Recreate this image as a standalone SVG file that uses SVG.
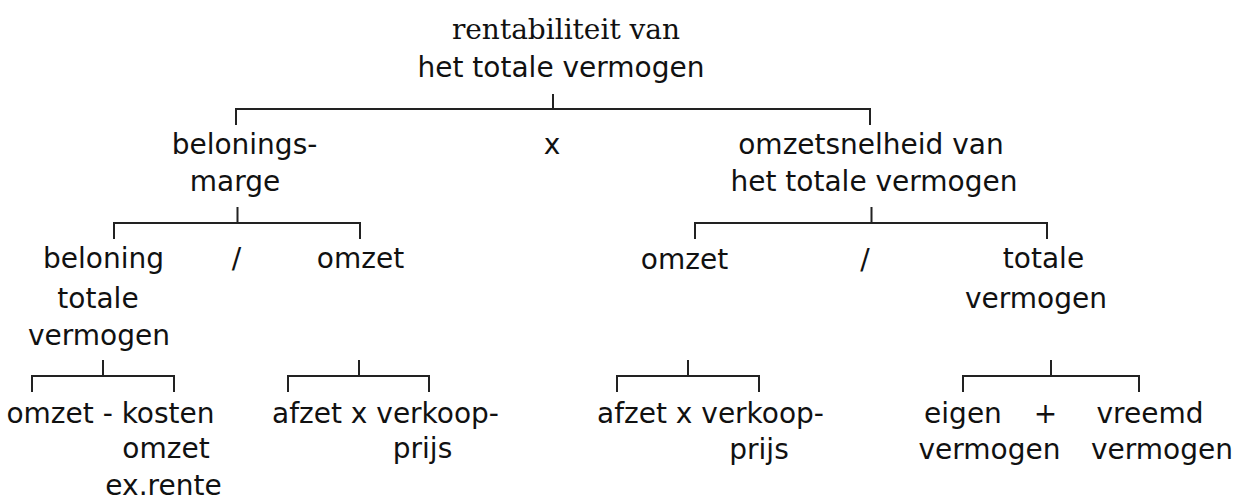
<svg xmlns="http://www.w3.org/2000/svg" width="1243" height="502" viewBox="0 0 1243 502">
<style>
.t{font-family:"DejaVu Sans","Liberation Sans",sans-serif;font-size:28px;fill:#111;text-anchor:middle}
.s{font-family:"DejaVu Serif","Liberation Serif",serif;font-size:28px;fill:#111;text-anchor:middle}
.c{fill:none;stroke:#222;stroke-width:2;stroke-linecap:butt;stroke-linejoin:miter}
</style>
<rect width="1243" height="502" fill="#fff"/>
<g id="connectors">
<path class="c" d="M553,94V109M236,125V109H870V125"/>
<path class="c" d="M237.5,207V223M114,239V223H360V239"/>
<path class="c" d="M871.5,207V223M695,239V223H1047V239"/>
<path class="c" d="M103,360V376M32,392V376H174V392"/>
<path class="c" d="M359,360V376M288,392V376H429V392"/>
<path class="c" d="M688,360V376M617,392V376H759V392"/>
<path class="c" d="M1051,360V376M963,392V376H1139V392"/>
</g>
<g id="root">
<text class="s" x="566" y="39">rentabiliteit van</text>
<text class="t" x="561" y="77">het totale vermogen</text>
</g>
<g id="beloningsmarge">
<text class="t" x="244.5" y="154">belonings-</text>
<text class="t" x="235" y="191">marge</text>
</g>
<g id="op-x"><text class="t" x="552" y="154">x</text></g>
<g id="omzetsnelheid">
<text class="t" x="871" y="154">omzetsnelheid van</text>
<text class="t" x="874" y="191">het totale vermogen</text>
</g>
<g id="beloning">
<text class="t" x="103.5" y="268">beloning</text>
<text class="t" x="98" y="308">totale</text>
<text class="t" x="99" y="345">vermogen</text>
</g>
<g id="op-div-left"><text class="t" x="236.5" y="268">/</text></g>
<g id="omzet-left"><text class="t" x="360.5" y="268">omzet</text></g>
<g id="omzet-right"><text class="t" x="684.5" y="269">omzet</text></g>
<g id="op-div-right"><text class="t" x="865" y="269">/</text></g>
<g id="totale-vermogen">
<text class="t" x="1043.5" y="268">totale</text>
<text class="t" x="1036" y="308">vermogen</text>
</g>
<g id="omzet-kosten">
<text class="t" x="110.5" y="423">omzet - kosten</text>
<text class="t" x="166" y="458">omzet</text>
<text class="t" x="163.5" y="495">ex.rente</text>
</g>
<g id="afzet-left">
<text class="t" x="385.5" y="423">afzet x verkoop-</text>
<text class="t" x="422.5" y="458">prijs</text>
</g>
<g id="afzet-right">
<text class="t" x="710.5" y="423">afzet x verkoop-</text>
<text class="t" x="759" y="459">prijs</text>
</g>
<g id="eigen-vermogen">
<text class="t" x="963" y="423">eigen</text>
<text class="t" x="989.5" y="459">vermogen</text>
</g>
<g id="op-plus"><text class="t" x="1045.5" y="423">+</text></g>
<g id="vreemd-vermogen">
<text class="t" x="1150" y="423">vreemd</text>
<text class="t" x="1162" y="459">vermogen</text>
</g>
</svg>
